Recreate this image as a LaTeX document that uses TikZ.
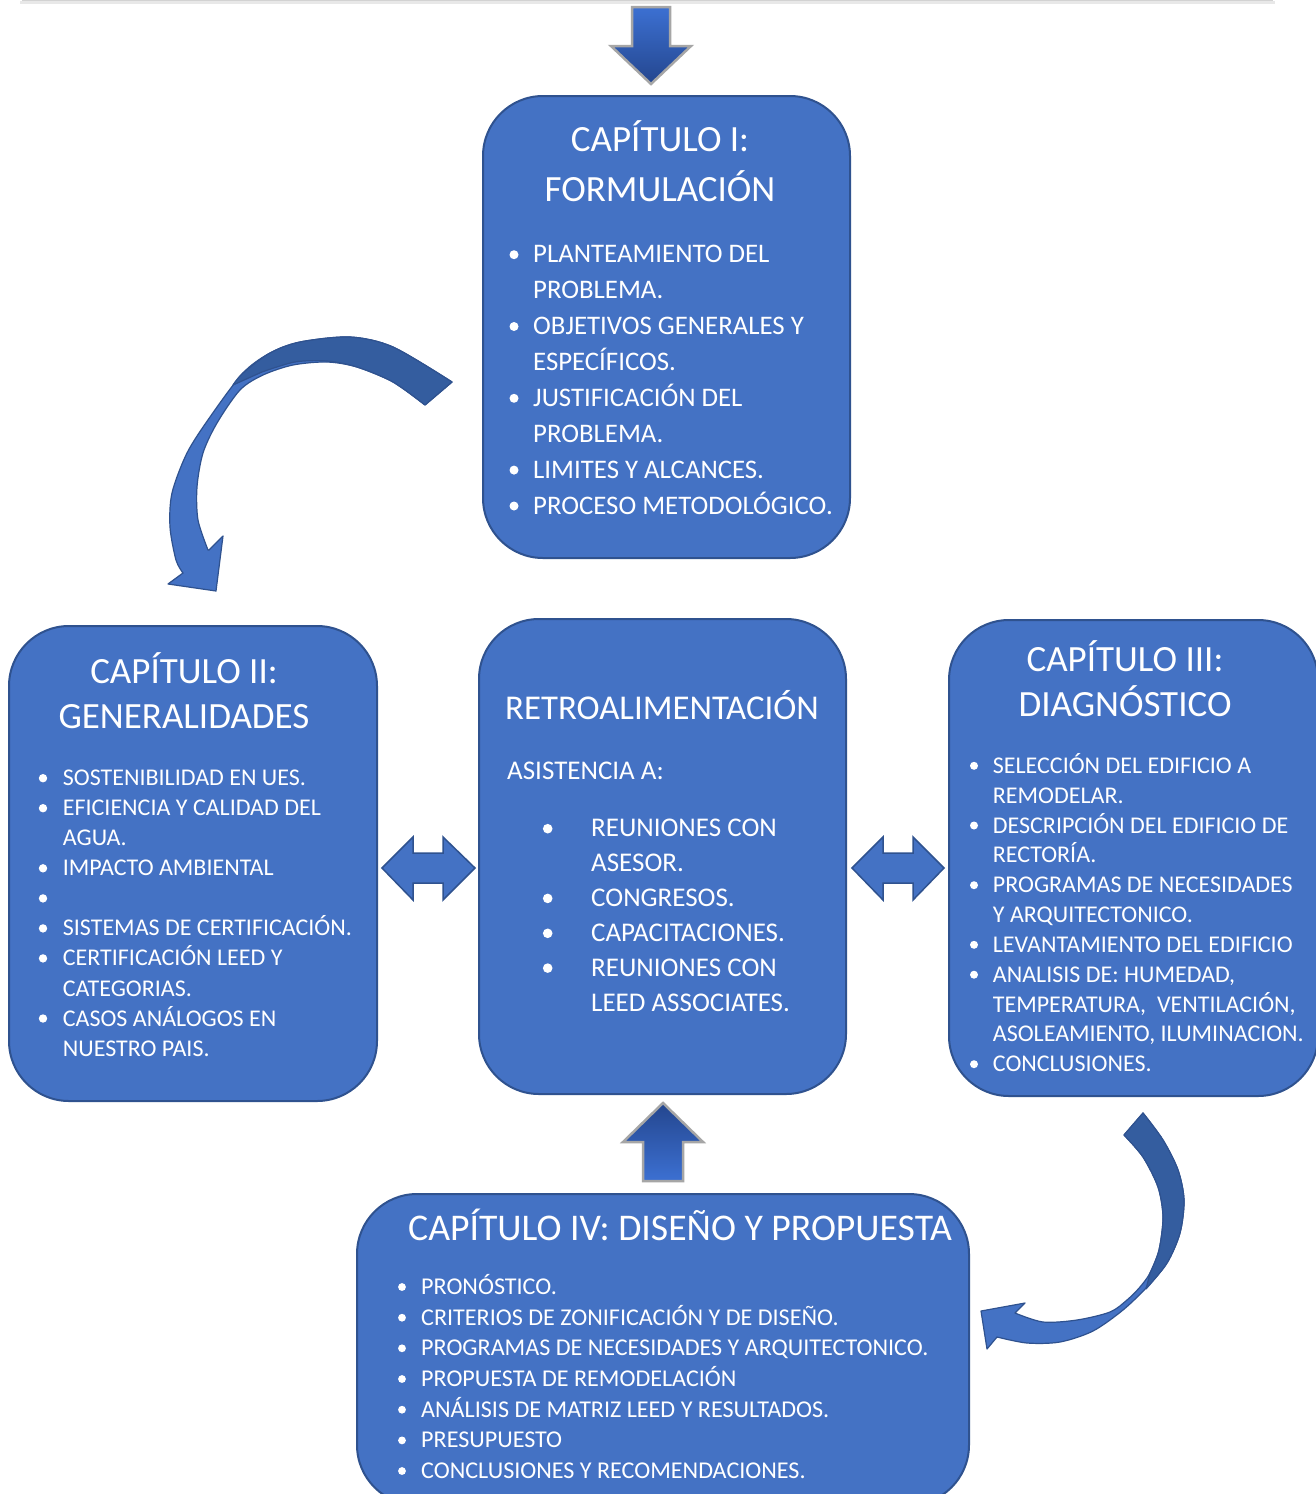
\documentclass[tikz,border=0pt]{standalone}
\usepackage{fontspec}
\setmainfont{Carlito}
\definecolor{boxfill}{HTML}{4472C4}
\definecolor{boxline}{HTML}{2F528F}
\definecolor{darkband}{HTML}{345D9F}
\definecolor{gradtop}{HTML}{3C70D2}
\definecolor{gradbot}{HTML}{24468E}
\definecolor{arrgray}{HTML}{A6A6A6}
\newcounter{lnc}
\newcommand\Ln[3]{\stepcounter{lnc}\node[txt] (ln\arabic{lnc}) at (#1,#2) {#3};}
\newcommand\Bu[3]{\fill[white] (#1,#2) circle (#3pt);}
\tikzset{
 box/.style={draw=boxline, line width=2pt, fill=boxfill, rounded corners=60pt, inner sep=0pt, shape=rectangle},
 txt/.style={text=white, inner sep=0pt, anchor=base west},
 ttl/.style={text=white, inner sep=0pt, anchor=base, font=\fontsize{37}{44}\selectfont},
 blockarrow/.style={draw=boxline, line width=1.5pt, fill=boxfill, line join=miter},
 gradarrow/.style={draw=arrgray, line width=2.5pt, line join=miter},
 bandlight/.style={fill=boxfill, draw=boxline, line width=1.2pt, line join=round},
 banddark/.style={fill=darkband, draw=boxline, line width=1.2pt, line join=round},
}
\begin{document}
\begin{tikzpicture}[x=1pt,y=-1pt]
\useasboundingbox (0,0) rectangle (1315,1494);
\fill[white] (0,0) rectangle (1315,1494);
% faint shadow at the top edge
\draw[gray!18, line width=3pt] (20,2) -- (1275,2);
\draw[gray!35, line width=1pt] (22,0.5) -- (1273,0.5);

% ---------- boxes ----------
\node[box, minimum width=367pt, minimum height=462pt] (cap1) at (666.5,327) {};
\node[box, minimum width=368pt, minimum height=475pt] (cap2) at (193,863.5) {};
\node[box, minimum width=367pt, minimum height=475pt] (retro) at (662.5,856.5) {};
\node[box, minimum width=369pt, minimum height=476pt] (cap3) at (1133.5,858) {};
\node[box, minimum width=612pt, minimum height=311pt] (cap4) at (663,1349.5) {};

% ---------- straight block arrows ----------
\shadedraw[gradarrow, top color=gradtop, bottom color=gradbot]
  (632,7) -- (670,7) -- (670,46) -- (691,46) -- (651,84) -- (611,46) -- (632,46) -- cycle;
\shadedraw[gradarrow, top color=gradbot, bottom color=gradtop]
  (663,1103) -- (703,1142) -- (683,1142) -- (683,1181) -- (643,1181) -- (643,1142) -- (623,1142) -- cycle;
\draw[blockarrow] (382,868) -- (413,837) -- (413,853) -- (443,853) -- (443,837) -- (475,868)
  -- (443,900) -- (443,883) -- (413,883) -- (413,900) -- cycle;
\draw[blockarrow] (852,868) -- (883,837) -- (883,853) -- (913,853) -- (913,837) -- (944,868)
  -- (913,900) -- (913,883) -- (883,883) -- (883,900) -- cycle;

% ---------- curved arrow, top left ----------
\draw[bandlight] plot[smooth] coordinates {(452,382) (393,347) (350,337) (300,342) (270,353) (243,373) (210,417) (187,453) (172,493) (170,527) (176,560) (183,573)}
  -- (168,584) -- (216,591) -- (223,536) -- (209,550)
  -- plot[smooth] coordinates {(208,550) (198,520) (197,487) (203,453) (217,423) (240,390) (263,375) (293,365) (327,362) (357,367) (393,382) (425,405)} -- cycle;
\draw[banddark] plot[smooth] coordinates {(452,382) (393,347) (350,337) (300,342) (270,353) (243,373) (233,385)}
  -- plot[smooth] coordinates {(262,372) (295,362) (327,361) (357,367) (393,382) (425,405)} -- cycle;

% ---------- curved arrow, bottom right ----------
\draw[bandlight] plot[smooth] coordinates {(1143,1113) (1163,1140) (1178,1170) (1184,1200) (1180,1233) (1167,1263) (1147,1287) (1123,1310) (1093,1331) (1060,1342) (1027,1343) (997,1337)}
  -- (987,1349) -- (981,1311) -- (1025,1303) -- (1015,1313)
  -- plot[smooth] coordinates {(1015,1313) (1043,1322) (1077,1320) (1110,1312) (1127,1300) (1140,1287) (1150,1273) (1159,1250) (1163,1217) (1158,1187) (1143,1157) (1124,1135)} -- cycle;
\draw[banddark] plot[smooth] coordinates {(1143,1113) (1163,1140) (1178,1170) (1184,1200) (1180,1233) (1167,1263) (1146,1289)}
  -- plot[smooth] coordinates {(1150,1273) (1159,1250) (1163,1217) (1158,1187) (1143,1157) (1124,1135)} -- cycle;

% ---------- Capitulo I ----------
\node[ttl] (t1a) at (660,151.7) {CAPÍTULO I:};
\node[ttl] (t1b) at (660,201.7) {FORMULACIÓN};
\begin{scope}[txt/.append style={font=\fontsize{26.8}{30}\selectfont}]
\Ln{533}{262.7}{PLANTEAMIENTO DEL}
\Ln{533}{298.6}{PROBLEMA.}
\Ln{533}{334.5}{OBJETIVOS GENERALES Y}
\Ln{533}{370.4}{ESPECÍFICOS.}
\Ln{533}{406.3}{JUSTIFICACIÓN DEL}
\Ln{533}{442.2}{PROBLEMA.}
\Ln{533}{478.1}{LIMITES Y ALCANCES.}
\Ln{533}{514}{PROCESO METODOLÓGICO.}
\end{scope}
\Bu{514}{254.7}{4.5}\Bu{514}{326.5}{4.5}\Bu{514}{398.3}{4.5}\Bu{514}{470.1}{4.5}\Bu{514}{506}{4.5}

% ---------- Capitulo II ----------
\node[ttl] (t2a) at (184,683) {CAPÍTULO II:};
\node[ttl] (t2b) at (184,728) {GENERALIDADES};
\begin{scope}[txt/.append style={font=\fontsize{24}{28}\selectfont}]
\Ln{62.7}{785.7}{SOSTENIBILIDAD EN UES.}
\Ln{62.7}{815.7}{EFICIENCIA Y CALIDAD DEL}
\Ln{62.7}{845.8}{AGUA.}
\Ln{62.7}{875.8}{IMPACTO AMBIENTAL}
\Ln{62.7}{935.9}{SISTEMAS DE CERTIFICACIÓN.}
\Ln{62.7}{965.9}{CERTIFICACIÓN LEED Y}
\Ln{62.7}{996}{CATEGORIAS.}
\Ln{62.7}{1026}{CASOS ANÁLOGOS EN}
\Ln{62.7}{1056}{NUESTRO PAIS.}
\end{scope}
\Bu{43}{778.2}{4.2}\Bu{43}{808.2}{4.2}\Bu{43}{868.3}{4.2}\Bu{43}{898.4}{4.2}\Bu{43}{928.4}{4.2}\Bu{43}{958.4}{4.2}\Bu{43}{1018.5}{4.2}

% ---------- Retroalimentacion ----------
\node[txt, font=\fontsize{34.8}{40}\selectfont] (tr) at (505,719) {RETROALIMENTACIÓN};
\begin{scope}[txt/.append style={font=\fontsize{27}{30}\selectfont}]
\Ln{507}{779}{ASISTENCIA A:}
\Ln{591}{836.7}{REUNIONES CON}
\Ln{591}{871.6}{ASESOR.}
\Ln{591}{906.4}{CONGRESOS.}
\Ln{591}{941.3}{CAPACITACIONES.}
\Ln{591}{976.1}{REUNIONES CON}
\Ln{591}{1011}{LEED ASSOCIATES.}
\end{scope}
\Bu{547.7}{828.7}{4.8}\Bu{547.7}{898.4}{4.8}\Bu{547.7}{933.3}{4.8}\Bu{547.7}{968.1}{4.8}

% ---------- Capitulo III ----------
\node[ttl] (t3a) at (1125,671.7) {CAPÍTULO III:};
\node[ttl] (t3b) at (1125,716.7) {DIAGNÓSTICO};
\begin{scope}[txt/.append style={font=\fontsize{24}{27}\selectfont}]
\Ln{992.7}{773.3}{SELECCIÓN DEL EDIFICIO A}
\Ln{992.7}{803.1}{REMODELAR.}
\Ln{992.7}{833}{DESCRIPCIÓN DEL EDIFICIO DE}
\Ln{992.7}{862.8}{RECTORÍA.}
\Ln{992.7}{892.7}{PROGRAMAS DE NECESIDADES}
\Ln{992.7}{922.5}{Y ARQUITECTONICO.}
\Ln{992.7}{952.3}{LEVANTAMIENTO DEL EDIFICIO}
\Ln{992.7}{982.2}{ANALISIS DE: HUMEDAD,}
\Ln{992.7}{1012}{TEMPERATURA,\ \ VENTILACIÓN,}
\Ln{992.7}{1041.9}{ASOLEAMIENTO, ILUMINACION.}
\Ln{992.7}{1071.7}{CONCLUSIONES.}
\end{scope}
\Bu{974}{765.8}{4}\Bu{974}{825.5}{4}\Bu{974}{885.2}{4}\Bu{974}{944.8}{4}\Bu{974}{974.7}{4}\Bu{974}{1064.2}{4}

% ---------- Capitulo IV ----------
\node[txt, font=\fontsize{37.7}{44}\selectfont] (t4) at (408,1240) {CAPÍTULO IV: DISEÑO Y PROPUESTA};
\begin{scope}[txt/.append style={font=\fontsize{24.1}{28}\selectfont}]
\Ln{421}{1294.5}{PRONÓSTICO.}
\Ln{421}{1325.2}{CRITERIOS DE ZONIFICACIÓN Y DE DISEÑO.}
\Ln{421}{1355.8}{PROGRAMAS DE NECESIDADES Y ARQUITECTONICO.}
\Ln{421}{1386.5}{PROPUESTA DE REMODELACIÓN}
\Ln{421}{1417.2}{ANÁLISIS DE MATRIZ LEED Y RESULTADOS.}
\Ln{421}{1447.9}{PRESUPUESTO}
\Ln{421}{1478.5}{CONCLUSIONES Y RECOMENDACIONES.}
\end{scope}
\Bu{402}{1287}{3.9}\Bu{402}{1317.7}{3.9}\Bu{402}{1348.3}{3.9}\Bu{402}{1379}{3.9}\Bu{402}{1409.7}{3.9}\Bu{402}{1440.4}{3.9}\Bu{402}{1471}{3.9}
\end{tikzpicture}
\end{document}
